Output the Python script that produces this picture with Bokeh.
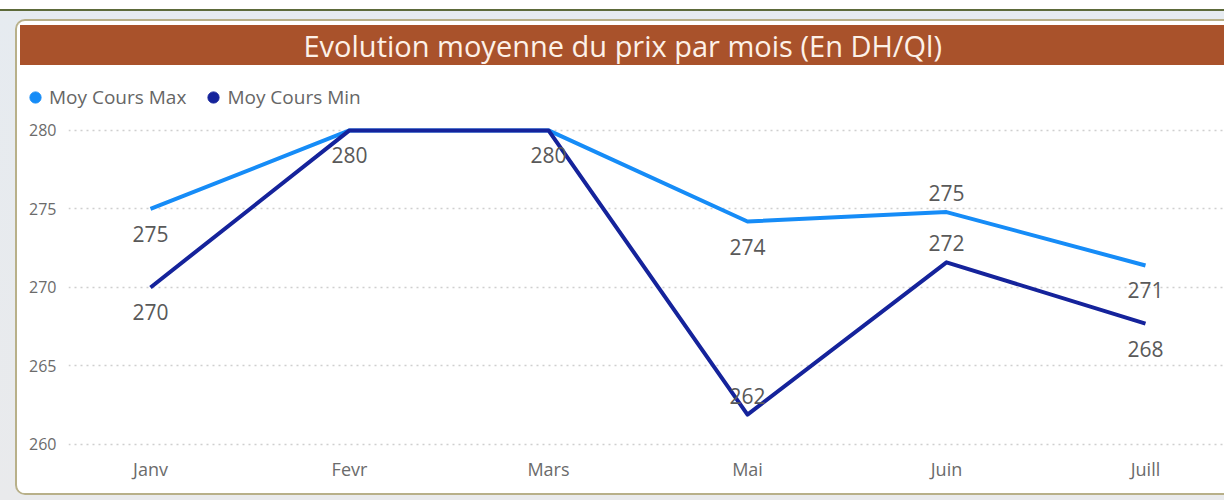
from bokeh.plotting import figure
from bokeh.models import (ColumnDataSource, Range1d, FixedTicker, Legend, LegendItem, Label)
from bokeh.layouts import column
from bokeh.core.properties import value
from bokeh.embed import file_html
from bokeh.resources import INLINE

# ---------------- data ----------------
TITLE = "Evolution moyenne du prix par mois (En DH/Ql)"
MONTHS = ["Janv", "Fevr", "Mars", "Mai", "Juin", "Juill"]
MOY_MAX = [275.0, 280.0, 280.0, 274.2, 274.8, 271.4]
MOY_MIN = [270.0, 280.0, 280.0, 261.9, 271.6, 267.7]
SERIES_NAMES = ["Moy Cours Max", "Moy Cours Min"]
Y_TICKS = [260, 265, 270, 275, 280]

# label placement (style): +1 below the point, -1 above the point
MAX_LABEL_SIDE = [1, 1, 1, 1, -1, 1]
MIN_LABEL_SIDE = [1, 1, 1, -1, -1, 1]

# ---------------- styles ----------------
FONT = "Open Sans"
BROWN = "#a9522b"
C_MAX = "#168cf7"
C_MIN = "#15239b"
LABEL_COLOR = "#595959"
TICK_COLOR = "#6b6b6b"
BELOW_PX = 25
ABOVE_PX = -19

xs = list(range(len(MONTHS)))
src_max = ColumnDataSource(dict(x=xs, y=MOY_MAX))
src_min = ColumnDataSource(dict(x=xs, y=MOY_MIN))

# ---------------- title band ----------------
band = figure(width=1204, height=40, x_range=Range1d(0, 1204), y_range=Range1d(0, 40),
              x_axis_type=None, y_axis_type=None, toolbar_location=None,
              output_backend="svg", min_border=0, min_border_left=0, min_border_right=0,
              min_border_top=0, min_border_bottom=0, outline_line_color=None,
              background_fill_alpha=0, border_fill_alpha=0, frame_align=False,
              margin=(4, 0, 0, 3), styles={"background-color": BROWN})
band.grid.visible = False
band.add_layout(Label(x=283, y=20, x_units="screen", text=TITLE, text_align="left",
                      text_baseline="middle", text_font=FONT, text_font_size="29px",
                      text_color="#fdf1e8"))

# ---------------- legend strip ----------------
lf = figure(width=1207, height=53, x_range=Range1d(0, 1), y_range=Range1d(0, 1),
            x_axis_type=None, y_axis_type=None, toolbar_location=None,
            output_backend="svg", min_border=0, min_border_left=0, min_border_right=0,
            min_border_top=0, min_border_bottom=0, outline_line_color=None,
            background_fill_color="white", border_fill_color="white", frame_align=False)
lf.grid.visible = False
# zero-size markers: they only give the circle glyphs of the legend
m_max = lf.scatter("x", "y", source=src_max, size=0, marker="circle",
                   fill_color=C_MAX, line_color=C_MAX)
m_min = lf.scatter("x", "y", source=src_min, size=0, marker="circle",
                   fill_color=C_MIN, line_color=C_MIN)
legend = Legend(items=[LegendItem(label=SERIES_NAMES[0], renderers=[m_max]),
                       LegendItem(label=SERIES_NAMES[1], renderers=[m_min])],
                orientation="horizontal", location=(4, 7),
                glyph_width=28, glyph_height=28, label_standoff=0, spacing=13,
                padding=0, margin=0, border_line_color=None,
                background_fill_alpha=0, label_text_font=FONT,
                label_text_font_size="19px", label_text_color="#666666")
lf.add_layout(legend)

# ---------------- chart ----------------
p = figure(width=1207, height=375, x_range=Range1d(-0.412, 5.397),
           y_range=Range1d(259.49, 280.76), toolbar_location=None,
           output_backend="svg", min_border_left=51, min_border_right=0,
           min_border_top=0, min_border_bottom=41, outline_line_color=None,
           background_fill_color="white", border_fill_color="white", frame_align=False)

p.line("x", "y", source=src_max, line_color=C_MAX, line_width=4, line_join="round")
p.line("x", "y", source=src_min, line_color=C_MIN, line_width=4, line_join="round")

# data labels
lx, ly, lt, loff = [], [], [], []
for i, v in enumerate(MOY_MAX):
    lx.append(i); ly.append(v); lt.append(f"{round(v):d}")
    loff.append(BELOW_PX if MAX_LABEL_SIDE[i] > 0 else ABOVE_PX)
for i, v in enumerate(MOY_MIN):
    if round(v) == round(MOY_MAX[i]):
        continue  # hidden, overlaps the Max label
    lx.append(i); ly.append(v); lt.append(f"{round(v):d}")
    loff.append(BELOW_PX if MIN_LABEL_SIDE[i] > 0 else ABOVE_PX)
lab_src = ColumnDataSource(dict(x=lx, y=ly, text=lt, dy=loff))
p.text("x", "y", text="text", source=lab_src, y_offset="dy", text_align="center",
       text_baseline="middle", text_font=value(FONT), text_font_size="21px",
       text_color=LABEL_COLOR)

# axes
p.xaxis.ticker = FixedTicker(ticks=xs)
p.xaxis.major_label_overrides = {i: m for i, m in enumerate(MONTHS)}
p.yaxis.ticker = FixedTicker(ticks=Y_TICKS)
for ax in (p.xaxis[0], p.yaxis[0]):
    ax.axis_line_color = None
    ax.major_tick_line_color = None
    ax.minor_tick_line_color = None
    ax.major_tick_out = 0
    ax.major_tick_in = 0
    ax.minor_tick_out = 0
    ax.minor_tick_in = 0
    ax.major_label_text_font = FONT
    ax.major_label_text_color = TICK_COLOR
p.xaxis.major_label_text_font_size = "18px"
p.yaxis.major_label_text_font_size = "16px"
p.xaxis.major_label_standoff = 4
p.yaxis.major_label_standoff = 12

p.xgrid.visible = False
p.ygrid.ticker = FixedTicker(ticks=Y_TICKS)
p.ygrid.grid_line_color = "#cfcfcf"
p.ygrid.grid_line_dash = "2 4"
p.ygrid.grid_line_width = 1.5

inner = column(band, lf, p, margin=(19, 0, 0, 15),
               styles={"border": "2px solid #b8b089", "border-right": "none",
                       "border-radius": "10px 0 0 10px", "background-color": "white",
                       "overflow": "hidden"})
outer = column(inner, width=1224, height=500,
               styles={"background": "linear-gradient(to bottom, #ffffff 0px, #ffffff 9px, "
                                     "#5d6a3a 9px, #5d6a3a 11px, #e6ebf0 11px, #e9eaec 100%)",
                       "overflow": "hidden"})

open("out.html", "w").write(file_html(outer, INLINE))
